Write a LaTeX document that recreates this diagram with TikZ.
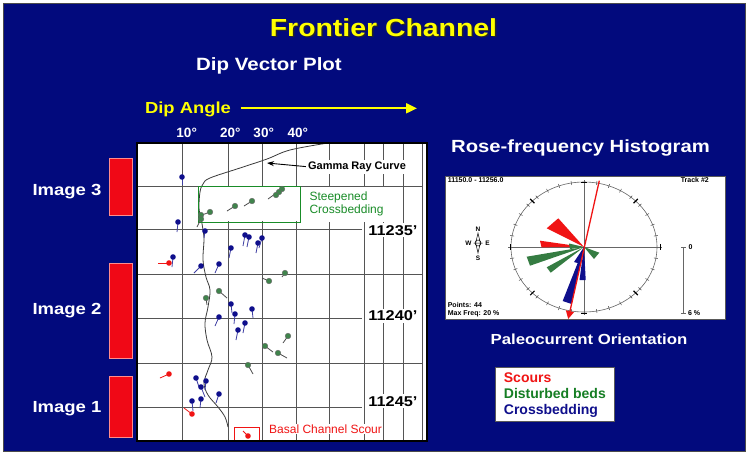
\documentclass[tikz,border=0pt]{standalone}
\usepackage{fontspec}
\setmainfont{Liberation Sans}
\newfontfamily\widefont{Liberation Sans}[FakeStretch=1.15]
\usetikzlibrary{arrows.meta}
\definecolor{navybg}{RGB}{2,10,125}
\definecolor{barred}{RGB}{240,8,22}
\definecolor{ylw}{RGB}{255,255,0}
\definecolor{dgreen}{RGB}{25,140,40}
\definecolor{ptgreen}{RGB}{30,110,45}
\definecolor{ptblue}{RGB}{15,15,140}
\definecolor{ptred}{RGB}{240,20,20}
\definecolor{gridc}{RGB}{85,85,85}
\newcommand\fsz[1]{\fontsize{#1}{#1}\selectfont}
\begin{document}
\begin{tikzpicture}[x=1pt,y=-1pt,
  lbl/.style={inner sep=1pt, anchor=base},
  wlbl/.style={lbl, text=white, font=\widefont\bfseries\fsz{#1}},
  gridln/.style={draw=gridc, line width=0.9pt},
  redbar/.style={fill=barred, draw=red!45!white, line width=0.5pt},
  tail/.style={line width=0.8pt},
  small/.style={inner sep=0.3pt, anchor=base west, font=\bfseries\fsz{7}}
]
\useasboundingbox (0,0) rectangle (750,456);
\fill[white] (0,0) rectangle (750,456);
\filldraw[fill=navybg, draw=gray!60!black, line width=1pt] (3,3) rectangle (745,451);

% title
\node[lbl, font=\widefont\bfseries\fsz{24.7}, text=black!85] (titleshadow) at (385,37.5) {Frontier Channel};
\node[lbl, font=\widefont\bfseries\fsz{24.7}, text=ylw] (title) at (383.5,36) {Frontier Channel};
\node[wlbl=17.8] (dvp) at (269,70) {Dip Vector Plot};
\node[lbl, text=ylw, font=\widefont\bfseries\fsz{16}] (dipangle) at (188,113.3) {Dip Angle};
\coordinate (dipstart) at (240.7,108.3);
\coordinate (dipend) at (417,108.3);
\draw[ylw, line width=2pt, -{Triangle[length=11pt,width=10pt]}] (dipstart) -- (dipend);

% degree labels
\node[lbl, text=white, font=\bfseries\fsz{13.5}] (d10) at (186.7,137.7) {10°};
\node[lbl, text=white, font=\bfseries\fsz{13.5}] (d20) at (230.3,137.7) {20°};
\node[lbl, text=white, font=\bfseries\fsz{13.5}] (d30) at (263.7,137.7) {30°};
\node[lbl, text=white, font=\bfseries\fsz{13.5}] (d40) at (297.8,137.7) {40°};

% left image bars
\node[redbar, minimum width=23pt, minimum height=57pt, inner sep=0pt] (bar3) at (120.5,186.5) {};
\node[redbar, minimum width=23pt, minimum height=95pt, inner sep=0pt] (bar2) at (120.5,310.5) {};
\node[redbar, minimum width=23pt, minimum height=61pt, inner sep=0pt] (bar1) at (120.5,406.5) {};
\node[wlbl=16.1] (im3) at (67,195) {Image 3};
\node[wlbl=16.1] (im2) at (67,314) {Image 2};
\node[wlbl=16.1] (im1) at (67,412.7) {Image 1};

% plot area
\fill[white] (137,143) rectangle (427,441);
\foreach \gx in {182.5,228.5,262,296,329.5,364,383.3,403.3,422.7} \draw[gridln] (\gx,143) -- (\gx,441);
\foreach \gy in {186,274,363} \draw[gridln] (137,\gy) -- (423,\gy);
\foreach \gy in {229,318,407} \draw[gridln] (137,\gy) -- (362,\gy);
\fill[white] (300,187) rectangle (391,222);
\fill[white] (199,187) rectangle (299,221);

% gamma curve
\draw[gridc!70!black, line width=0.8pt] plot[smooth, tension=0.6] coordinates {(328,143) (290,150) (267,159) (240,168) (210,178) (203,184) (200,192) (199,208) (201,218) (203,230) (204,240) (203,260) (206,277) (210,290) (208,307) (205,323) (207,340) (212,357) (208,370) (204,383) (208,395) (218,407) (225,417) (228,427)};

% labels in plot
\node[lbl, font=\bfseries\fsz{11}, fill=white, inner sep=2pt] (gamma) at (357,169.3) {Gamma Ray Curve};
\coordinate (gammatip) at (267,163);
\draw[line width=0.9pt, -{Stealth[length=7pt,width=5pt]}] (gamma.west) -- (gammatip);
\draw[dgreen, line width=1pt] (198,186) rectangle (300,222);
\node[anchor=base west, text=dgreen, font=\fsz{12}, fill=white, inner sep=1pt] (steep1) at (308.3,200) {Steepened};
\node[anchor=base west, text=dgreen, font=\fsz{12}, fill=white, inner sep=1pt] (steep2) at (308.3,213.3) {Crossbedding};
\node[lbl, font=\widefont\bfseries\fsz{14.2}, fill=white, inner sep=2pt] (dep1) at (393,235) {11235’};
\node[lbl, font=\widefont\bfseries\fsz{14.2}, fill=white, inner sep=2pt] (dep2) at (393,320.7) {11240’};
\node[lbl, font=\widefont\bfseries\fsz{14.2}, fill=white, inner sep=2pt] (dep3) at (393,406) {11245’};
\draw[ptred, line width=1pt] (234,427) rectangle (259,440);
\node[anchor=base west, text=ptred, font=\fsz{12}, fill=white, inner sep=1pt] (basal) at (268,433.3) {Basal Channel Scour};

% dip tadpoles
\foreach \px/\py/\tx/\ty in {182/177/182/185, 178/222/177/232, 205/231/204/238, 173/257/172/267, 201/266/194/273, 219/264/215/273, 231/248/229/258, 245/235/243/246, 249/237/247/247, 258/243/256/253, 262/238/259/248, 231/304/232/313, 235/314/234/324, 252/309/253/318, 219/317/215/326, 245/323/243/333, 238/330/236/340, 196/378/199/387, 201/387/205/397, 206/381/205/390, 219/394/216/403, 201/399/200/408, 192/401/193/411}
  {\draw[ptblue!80!white, tail] (\px,\py) -- (\tx,\ty); \fill[ptblue] (\px,\py) circle (2.8);}
\foreach \px/\py/\tx/\ty in {282/189/268/199, 279/192/279/192, 276/195/276/195, 252/201/244/206, 235/206/227/211, 210/212/202/215, 201/215/201/219, 201/219/197/227, 269/281/262/278, 285/273/282/277, 219/291/227/298, 206/298/207/305, 288/336/283/343, 265/346/273/352, 278/353/287/358, 248/365/253/374}
  {\draw[black!70, tail] (\px,\py) -- (\tx,\ty); \filldraw[fill=ptgreen!85!white, draw=black!60, line width=0.4pt] (\px,\py) circle (2.8);}
\foreach \px/\py/\tx/\ty in {169/263/158/263, 169/374/160/378, 192/414/184/408, 248/436/243/431}
  {\draw[ptred, tail] (\px,\py) -- (\tx,\ty); \fill[ptred] (\px,\py) circle (2.8);}

% plot border
\draw[black, line width=1.8pt] (137,143) rectangle (427,441);

% rose panel
\fill[white] (445,176) rectangle (725,319);
\draw[gray!70!black, line width=1pt] (445,176) rectangle (725,319);
\node[wlbl=17.6] (rosetitle) at (580.5,152.3) {Rose-frequency Histogram};
\node[small] (range) at (447.3,182.7) {11150.0 - 11256.0};
\node[small, anchor=base east] (track) at (709.3,182.7) {Track \#2};
\node[small] (points) at (447.3,307) {Points: 44};
\node[small] (maxf) at (447.3,315.3) {Max Freq: 20 \%};
\coordinate (C) at (584,247);
\draw[gray!80!black, line width=0.6pt] (C) ellipse [x radius=73, y radius=65];
\foreach \a in {0,10,...,350}
  \draw[gray!60!black, line width=0.5pt] ({584+71*cos(\a)},{247-63*sin(\a)}) -- ({584+75*cos(\a)},{247-67*sin(\a)});
\foreach \a in {45,135,225,315}
  \draw[black, line width=1.2pt] ({584+70*cos(\a)},{247-62*sin(\a)}) -- ({584+76*cos(\a)},{247-68*sin(\a)});
\draw[gray!80!black, line width=0.8pt] (508,247) -- (662,247);
\draw[gray!80!black, line width=0.8pt] (584,180) -- (584,315);
\draw[black, line width=1pt] (581,182) -- (587,182) (581,313) -- (587,313) (510,244) -- (510,250) (660,244) -- (660,250);
% petals
\fill[ptred] (C) -- (546.7,228.3) -- (558.3,218.3) -- cycle;
\fill[ptred] (C) -- (540,240.7) -- (541.5,247.3) -- cycle;
\fill[ptgreen!90!white] (C) -- (526.7,256.7) -- (530,265.7) -- cycle;
\fill[ptgreen!90!white] (C) -- (546.7,267.3) -- (550.7,272.7) -- cycle;
\fill[ptgreen!90!white] (C) -- (599.3,252.7) -- (594,259) -- cycle;
\fill[ptgreen!90!white] (C) -- (569,243.5) -- (570,249) -- cycle;
\fill[ptblue] (C) -- (562.7,301) -- (571.7,304) -- cycle;
\fill[ptblue] (C) -- (579.5,280) -- (585.7,280) -- cycle;
\fill[ptblue] (C) -- (574,262) -- (581,264) -- cycle;
\coordinate (rtop) at (599.3,180.7);
\coordinate (rbot) at (568.2,319);
\draw[ptred, line width=1.3pt, -{Triangle[length=8pt,width=8pt]}] (rtop) -- (rbot);
% compass
\draw[black, line width=0.5pt] (478,233) -- (480.3,243) -- (478,253) -- (475.7,243) -- cycle;
\draw[black, line width=0.5pt] (478,243) circle (3) (473.5,243) -- (482.5,243);
\node[small, anchor=base, font=\bfseries\fsz{6.5}] (cn) at (478,231) {N};
\node[small, anchor=base, font=\bfseries\fsz{6.5}] (cs) at (478,260.5) {S};
\node[small, anchor=base, font=\bfseries\fsz{6.5}] (cw) at (468.5,245.3) {W};
\node[small, anchor=base, font=\bfseries\fsz{6.5}] (ce) at (487.5,245.3) {E};
% scale bar
\draw[gray!80!black, line width=1pt] (683,247) -- (683,313);
\draw[gray!80!black, line width=0.8pt] (681,247) -- (686,247) (681,313) -- (686,313);
\node[small] (s0) at (688,249.5) {0};
\node[small] (s6) at (687.5,315.5) {6 \%};

% paleocurrent
\node[wlbl=14.6] (paleo) at (589,344.3) {Paleocurrent Orientation};

% legend
\node[draw=gray!70!black, fill=white, line width=1pt, minimum width=119pt, minimum height=54pt, inner sep=0pt] (legend) at (554.5,394) {};
\node[anchor=base west, inner sep=1pt, text=ptred, font=\bfseries\fsz{14}] (lg1) at (502.7,382.7) {Scours};
\node[anchor=base west, inner sep=1pt, text=dgreen!90!black, font=\bfseries\fsz{14}] (lg2) at (502.7,398.3) {Disturbed beds};
\node[anchor=base west, inner sep=1pt, text=ptblue, font=\bfseries\fsz{14}] (lg3) at (502.7,414) {Crossbedding};
\end{tikzpicture}
\end{document}
